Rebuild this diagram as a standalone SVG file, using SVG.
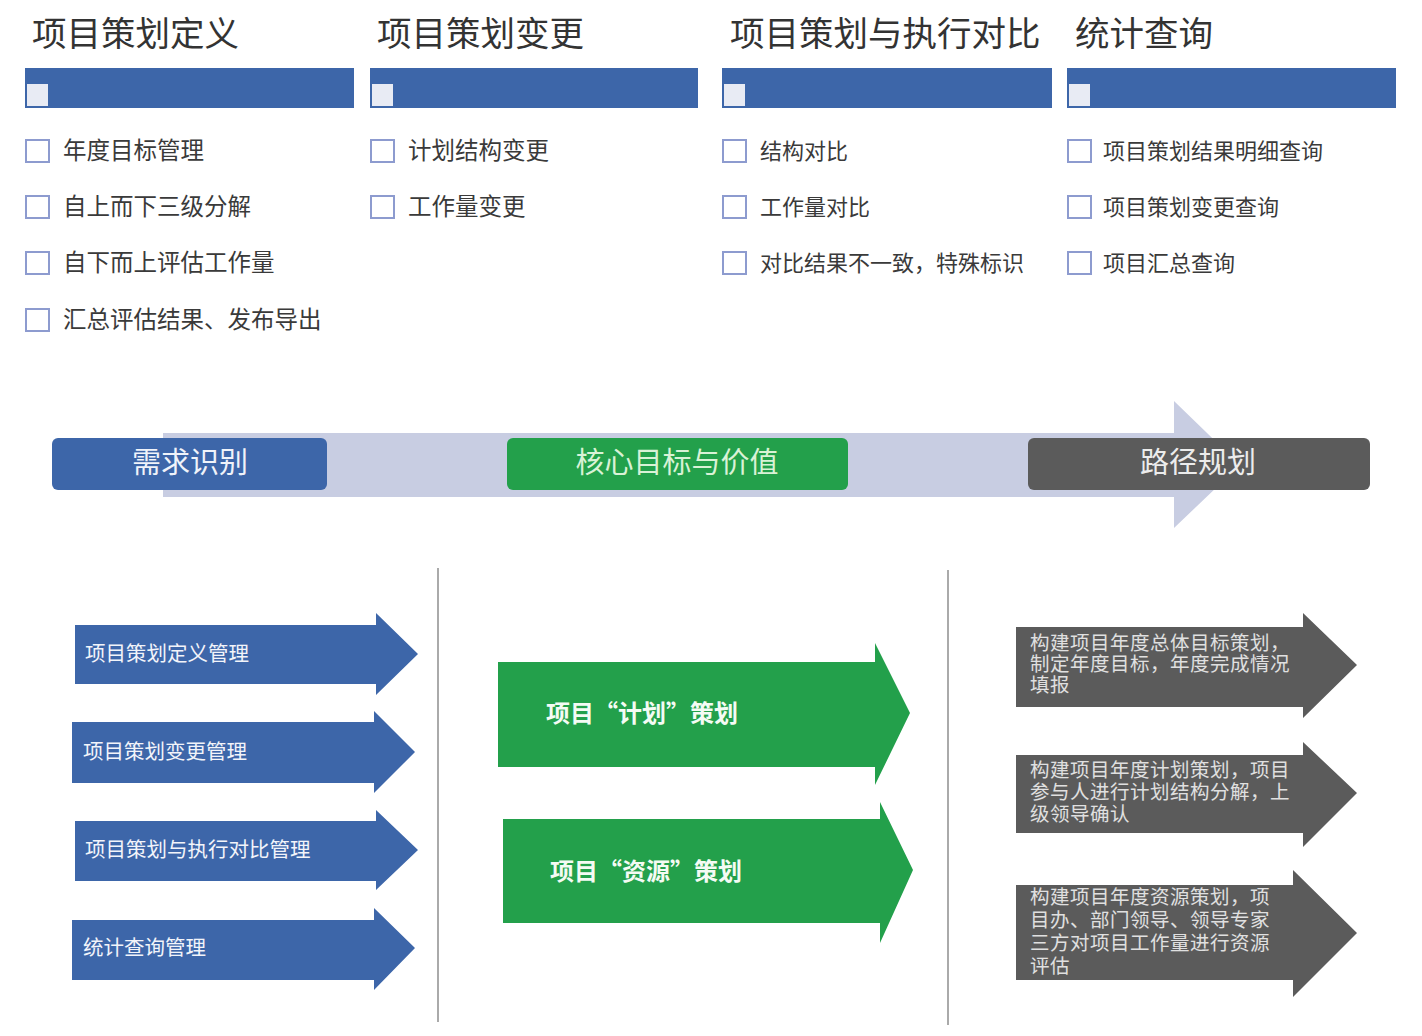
<svg xmlns="http://www.w3.org/2000/svg" width="1422" height="1036" viewBox="0 0 1422 1036">
<style>
text{font-family:"Noto Sans CJK SC","Noto Sans",sans-serif}
.title{font-size:34.5px;fill:#333}
.item{font-size:22px;fill:#3a3a3a}
.item2{font-size:23.5px;fill:#3a3a3a}
.bar{fill:#3d66a9}
.sq{fill:#e8ebf4}
.cb{fill:#fff;stroke:#8d9bcf;stroke-width:2}
.stage{font-size:29px;text-anchor:middle}
.lt{font-size:20.5px;fill:#f2f4fa}
.gt{font-size:24px;font-weight:bold;fill:#f4fbf4}
.rt{font-size:19.5px;fill:#e0e0e0;letter-spacing:0.5px}
.blue{fill:#3d66a9}
.green{fill:#23a04b}
.gray{fill:#5b5b5b}
.vline{stroke:#aaaaaa;stroke-width:2}
</style>
<rect width="1422" height="1036" fill="#fff"/>

<g id="col1">
<text class="title" x="32" y="46">项目策划定义</text>
<rect class="bar" x="25" y="68" width="329" height="40"/>
<rect class="sq" x="27" y="84" width="21" height="22"/>
<rect class="cb" x="26" y="140" width="23" height="22"/><text class="item2" x="63" y="159">年度目标管理</text>
<rect class="cb" x="26" y="196" width="23" height="22"/><text class="item2" x="63" y="215">自上而下三级分解</text>
<rect class="cb" x="26" y="252" width="23" height="22"/><text class="item2" x="63" y="271">自下而上评估工作量</text>
<rect class="cb" x="26" y="309" width="23" height="22"/><text class="item2" x="63" y="328">汇总评估结果、发布导出</text>
</g>
<g id="col2">
<text class="title" x="377" y="46">项目策划变更</text>
<rect class="bar" x="370" y="68" width="328" height="40"/>
<rect class="sq" x="372" y="84" width="21" height="22"/>
<rect class="cb" x="371" y="140" width="23" height="22"/><text class="item2" x="408" y="159">计划结构变更</text>
<rect class="cb" x="371" y="196" width="23" height="22"/><text class="item2" x="408" y="215">工作量变更</text>
</g>
<g id="col3">
<text class="title" x="730" y="46">项目策划与执行对比</text>
<rect class="bar" x="722" y="68" width="330" height="40"/>
<rect class="sq" x="724" y="84" width="21" height="22"/>
<rect class="cb" x="723" y="140" width="23" height="22"/><text class="item" x="760" y="159">结构对比</text>
<rect class="cb" x="723" y="196" width="23" height="22"/><text class="item" x="760" y="215">工作量对比</text>
<rect class="cb" x="723" y="252" width="23" height="22"/><text class="item" x="760" y="271">对比结果不一致，特殊标识</text>
</g>
<g id="col4">
<text class="title" x="1075" y="46">统计查询</text>
<rect class="bar" x="1067" y="68" width="329" height="40"/>
<rect class="sq" x="1069" y="84" width="21" height="22"/>
<rect class="cb" x="1068" y="140" width="23" height="22"/><text class="item" x="1103" y="159">项目策划结果明细查询</text>
<rect class="cb" x="1068" y="196" width="23" height="22"/><text class="item" x="1103" y="215">项目策划变更查询</text>
<rect class="cb" x="1068" y="252" width="23" height="22"/><text class="item" x="1103" y="271">项目汇总查询</text>
</g>

<g id="connectors">
<polygon points="163,433 1174,433 1174,401 1240,465 1174,528 1174,497 163,497" fill="#c8cde2"/>
<line class="vline" x1="438" y1="568" x2="438" y2="1022"/>
<line class="vline" x1="948" y1="570" x2="948" y2="1025"/>
</g>

<g id="stage1">
<rect x="52" y="438" width="275" height="52" rx="6" class="blue"/>
<text class="stage" x="190" y="473" fill="#f0f3fa">需求识别</text>
</g>
<g id="stage2">
<rect x="507" y="438" width="341" height="52" rx="6" class="green"/>
<text class="stage" x="677" y="473" fill="#d9f2d6">核心目标与价值</text>
</g>
<g id="stage3">
<rect x="1028" y="438" width="342" height="52" rx="6" class="gray"/>
<text class="stage" x="1198" y="473" fill="#ececec">路径规划</text>
</g>

<g id="left1">
<polygon class="blue" points="75,625 376,625 376,613 418,654 376,695 376,684 75,684"/>
<text class="lt" x="85" y="661">项目策划定义管理</text>
</g>
<g id="left2">
<polygon class="blue" points="72,722 374,722 374,711 415,752 374,793 374,783 72,783"/>
<text class="lt" x="83" y="759">项目策划变更管理</text>
</g>
<g id="left3">
<polygon class="blue" points="75,821 376,821 376,810 418,850 376,890 376,881 75,881"/>
<text class="lt" x="85" y="857">项目策划与执行对比管理</text>
</g>
<g id="left4">
<polygon class="blue" points="72,920 374,920 374,908 415,948 374,990 374,980 72,980"/>
<text class="lt" x="83" y="955">统计查询管理</text>
</g>

<g id="mid1">
<polygon class="green" points="498,662 875,662 875,643 910,713 875,785 875,767 498,767"/>
<text class="gt" x="546" y="722">项目“计划”策划</text>
</g>
<g id="mid2">
<polygon class="green" points="503,819 880,819 880,802 913,870 880,943 880,923 503,923"/>
<text class="gt" x="550" y="880">项目“资源”策划</text>
</g>

<g id="right1">
<polygon class="gray" points="1016,627 1303,627 1303,613 1357,665 1303,718 1303,707 1016,707"/>
<text class="rt" x="1030" y="650">构建项目年度总体目标策划，</text>
<text class="rt" x="1030" y="671">制定年度目标，年度完成情况</text>
<text class="rt" x="1030" y="692">填报</text>
</g>
<g id="right2">
<polygon class="gray" points="1016,755 1303,755 1303,742 1357,793 1303,847 1303,833 1016,833"/>
<text class="rt" x="1030" y="777">构建项目年度计划策划，项目</text>
<text class="rt" x="1030" y="799">参与人进行计划结构分解，上</text>
<text class="rt" x="1030" y="821">级领导确认</text>
</g>
<g id="right3">
<polygon class="gray" points="1016,885 1293,885 1293,870 1357,933 1293,997 1293,980 1016,980"/>
<text class="rt" x="1030" y="904">构建项目年度资源策划，项</text>
<text class="rt" x="1030" y="927">目办、部门领导、领导专家</text>
<text class="rt" x="1030" y="950">三方对项目工作量进行资源</text>
<text class="rt" x="1030" y="973">评估</text>
</g>
</svg>
